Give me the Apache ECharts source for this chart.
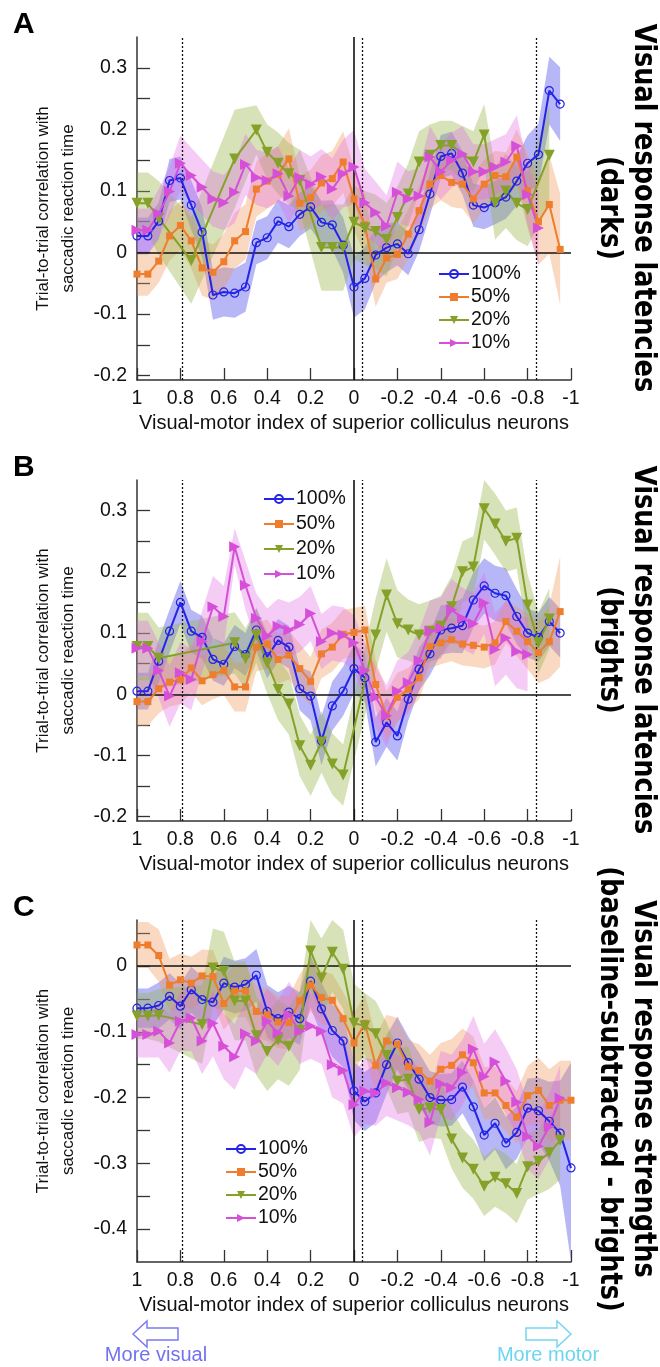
<!DOCTYPE html>
<html>
<head>
<meta charset="utf-8">
<script src="https://cdn.jsdelivr.net/npm/echarts@6/dist/echarts.min.js"></script>
<style>
html,body{margin:0;padding:0;background:#fff;}
#chart{width:660px;height:1367px;}
</style>
</head>
<body>
<div id="chart"></div>
<script>
// Visual-motor index positions (x)
const X = [1,0.95,0.9,0.85,0.8,0.75,0.7,0.65,0.6,0.55,0.5,0.45,0.4,0.35,0.3,0.25,0.2,0.15,0.1,0.05,0,-0.05,-0.1,-0.15,-0.2,-0.25,-0.3,-0.35,-0.4,-0.45,-0.5,-0.55,-0.6,-0.65,-0.7,-0.75,-0.8,-0.85,-0.9,-0.95,-1];
const seriesNames = ['100%','50%','20%','10%'];
const xTickLabels = [1,0.8,0.6,0.4,0.2,0,-0.2,-0.4,-0.6,-0.8,-1];
const dottedX = [0.785,-0.045,-0.84];

// Panel A: visual response latencies (darks)
const A_100 = [0.027,0.027,0.051,0.117,0.121,0.077,0.033,-0.069,-0.064,-0.066,-0.056,0.016,0.024,0.051,0.042,0.062,0.074,0.049,0.045,0.012,-0.056,-0.042,-0.004,0.008,0.014,-0.002,0.037,0.095,0.156,0.161,0.129,0.077,0.073,0.081,0.09,0.116,0.145,0.159,0.263,0.241,null];
const A_50 = [-0.035,-0.035,-0.014,0.027,0.044,0.019,-0.025,-0.032,-0.015,0.019,0.034,0.103,0.116,0.127,0.152,0.08,0.089,0.113,0.12,0.147,0.087,0.045,-0.043,-0.009,-0.003,0.03,0.068,0.111,0.125,0.114,0.111,0.087,0.111,0.125,0.123,0.155,0.1,0.05,0.078,0.005,null];
const A_20 = [0.08,0.08,0.056,null,null,-0.013,null,null,null,0.152,null,0.199,0.163,0.145,0.128,0.117,null,0.008,0.008,0.008,0.049,0.04,0.034,0.021,0.057,0.095,0.147,0.158,0.174,0.174,null,0.147,0.191,0.081,0.1,0.08,0.07,null,0.158,null,null];
const A_10 = [0.036,0.036,0.063,0.099,0.145,0.125,0.106,0.087,0.081,0.098,0.143,0.122,0.117,0.128,0.092,0.122,0.111,0.123,0.103,0.128,0.139,0.081,0.065,0.043,0.098,0.087,0.092,0.155,0.131,0.15,0.16,0.131,0.131,0.139,0.147,0.173,0.094,0.04,null,null,null];
const A_100_err = [0.03,0.03,0.03,0.035,0.035,0.04,0.04,0.04,0.04,0.04,0.04,0.035,0.035,0.035,0.035,0.035,0.035,0.035,0.04,0.045,0.05,0.05,0.045,0.04,0.035,0.035,0.035,0.035,0.035,0.035,0.035,0.035,0.035,0.035,0.035,0.04,0.045,0.05,0.055,0.06,0.06];
const A_50_err = [0.035,0.035,0.035,0.04,0.04,0.045,0.045,0.045,0.045,0.045,0.045,0.045,0.045,0.045,0.05,0.045,0.045,0.045,0.045,0.05,0.05,0.05,0.045,0.04,0.04,0.04,0.04,0.04,0.04,0.04,0.04,0.04,0.04,0.04,0.04,0.045,0.06,0.07,0.08,0.09,0.09];
const A_20_err = [0.05,0.05,0.06,0.06,0.06,0.07,0.07,0.07,0.07,0.08,0.07,0.04,0.045,0.05,0.05,0.05,0.06,0.07,0.07,0.07,0.06,0.06,0.06,0.06,0.05,0.05,0.05,0.05,0.04,0.04,0.05,0.05,0.05,0.06,0.06,0.06,0.06,0.07,0.08,0.08,0.08];
const A_10_err = [0.035,0.035,0.04,0.04,0.045,0.045,0.045,0.045,0.045,0.05,0.05,0.045,0.045,0.045,0.045,0.045,0.045,0.045,0.05,0.055,0.06,0.055,0.05,0.05,0.05,0.045,0.045,0.05,0.045,0.045,0.045,0.045,0.045,0.045,0.045,0.05,0.05,0.06,0.06,0.06,0.06];

// Panel B: visual response latencies (brights)
const B_100 = [0.005,0.005,0.054,0.103,0.15,0.103,0.093,0.057,0.049,0.078,0.065,0.105,0.061,0.088,0.077,0.009,-0.003,-0.076,-0.019,0.005,0.042,0.027,-0.078,-0.046,-0.068,-0.008,0.041,0.066,0.105,0.108,0.112,0.154,0.177,0.165,0.161,0.127,0.1,0.093,0.119,0.1,null];
const B_50 = [-0.012,-0.012,0.009,0.02,0.024,0.043,0.022,0.032,0.039,0.012,0.012,0.077,0.082,0.057,0.064,0.042,0.021,0.066,0.077,0.098,0.101,0.105,0.016,-0.035,-0.005,0.008,0.027,0.078,0.084,0.089,0.082,0.08,0.077,0.084,0.119,0.103,0.086,0.068,0.086,0.135,null];
const B_20 = [0.078,0.078,0.059,null,null,null,null,null,null,0.084,0.058,0.097,0.051,0.008,-0.016,-0.084,-0.116,-0.078,-0.114,-0.132,null,null,0.097,0.162,0.115,0.105,0.097,0.103,0.111,0.143,0.2,0.208,0.303,0.278,0.25,0.255,0.146,0.084,0.123,null,null];
const B_10 = [0.075,0.075,0.039,-0.003,0.035,0.024,0.086,0.143,0.127,0.241,0.178,0.124,0.095,0.111,0.105,0.114,0.132,0.086,0.1,0.097,0.084,0.039,-0.005,-0.035,0.005,0.019,0.055,0.103,0.108,0.138,0.124,0.115,0.149,0.073,0.092,0.07,0.065,null,null,null,null];
const B_100_err = [0.03,0.03,0.035,0.035,0.035,0.035,0.035,0.035,0.035,0.035,0.035,0.035,0.035,0.035,0.035,0.035,0.04,0.04,0.04,0.04,0.04,0.04,0.04,0.04,0.04,0.035,0.035,0.035,0.04,0.04,0.045,0.045,0.045,0.045,0.045,0.045,0.04,0.04,0.04,0.04,0.04];
const B_50_err = [0.04,0.04,0.04,0.04,0.04,0.04,0.04,0.04,0.04,0.04,0.04,0.04,0.04,0.04,0.04,0.04,0.04,0.04,0.04,0.04,0.04,0.04,0.04,0.04,0.04,0.035,0.035,0.035,0.035,0.035,0.035,0.035,0.035,0.035,0.035,0.04,0.045,0.05,0.06,0.09,0.09];
const B_20_err = [0.055,0.055,0.05,0.05,0.05,0.05,0.05,0.05,0.05,0.05,0.05,0.045,0.05,0.05,0.05,0.05,0.05,0.05,0.05,0.05,0.06,0.06,0.06,0.06,0.055,0.05,0.05,0.05,0.05,0.05,0.05,0.05,0.05,0.05,0.05,0.05,0.05,0.05,0.05,0.05,0.05];
const B_10_err = [0.045,0.045,0.045,0.05,0.05,0.05,0.05,0.05,0.05,0.03,0.04,0.04,0.045,0.045,0.045,0.045,0.045,0.045,0.045,0.045,0.045,0.045,0.05,0.05,0.05,0.05,0.05,0.05,0.05,0.05,0.05,0.05,0.05,0.06,0.06,0.06,0.06,0.06,0.06,0.06,0.06];

// Panel C: visual response strengths (baseline-subtracted - brights)
const C_100 = [-0.064,-0.064,-0.06,-0.046,-0.061,-0.036,-0.051,-0.055,-0.026,-0.032,-0.028,-0.014,-0.069,-0.08,-0.07,-0.08,-0.023,-0.065,-0.098,-0.114,-0.19,-0.206,-0.193,-0.15,-0.117,-0.147,-0.172,-0.2,-0.204,-0.203,-0.184,-0.214,-0.257,-0.239,-0.269,-0.253,-0.216,-0.22,-0.236,-0.254,-0.307];
const C_50 = [0.032,0.032,0.016,-0.029,-0.021,-0.026,-0.015,-0.016,-0.057,-0.038,-0.038,-0.069,-0.074,-0.085,-0.086,-0.053,-0.029,-0.048,-0.052,-0.08,-0.117,-0.087,-0.151,-0.114,-0.119,-0.153,-0.159,-0.175,-0.157,-0.151,-0.135,-0.147,-0.193,-0.193,-0.212,-0.23,-0.197,-0.189,-0.212,-0.204,-0.204];
const C_20 = [-0.076,-0.076,-0.075,null,null,null,-0.089,-0.003,-0.008,-0.053,-0.053,-0.106,-0.13,-0.112,-0.122,-0.098,0.023,-0.018,0.021,-0.005,-0.087,-0.091,-0.103,-0.136,-0.175,-0.172,-0.218,-0.216,-0.218,-0.263,-0.292,-0.309,-0.335,-0.321,-0.331,-0.346,-0.305,-0.297,-0.284,-0.265,null];
const C_10 = [-0.104,-0.104,-0.099,-0.117,-0.084,-0.079,-0.114,-0.087,-0.122,-0.138,-0.103,-0.114,-0.084,-0.102,-0.074,-0.099,-0.091,-0.099,-0.15,-0.159,-0.211,-0.19,-0.193,-0.178,-0.185,-0.192,-0.203,-0.238,-0.179,-0.185,-0.162,-0.126,-0.168,-0.146,-0.175,-0.207,-0.259,-0.274,-0.244,-0.201,null];
const C_100_err = [0.03,0.03,0.035,0.035,0.035,0.035,0.035,0.035,0.04,0.04,0.04,0.04,0.04,0.04,0.04,0.04,0.04,0.04,0.04,0.04,0.045,0.045,0.045,0.045,0.04,0.04,0.04,0.04,0.04,0.04,0.04,0.04,0.04,0.04,0.04,0.04,0.045,0.05,0.06,0.08,0.16];
const C_50_err = [0.035,0.035,0.04,0.04,0.04,0.04,0.04,0.04,0.04,0.04,0.04,0.04,0.04,0.04,0.04,0.04,0.04,0.04,0.04,0.04,0.045,0.045,0.045,0.04,0.04,0.04,0.04,0.04,0.04,0.04,0.04,0.04,0.04,0.04,0.04,0.04,0.045,0.05,0.055,0.06,0.06];
const C_20_err = [0.035,0.035,0.04,0.05,0.05,0.06,0.06,0.06,0.06,0.06,0.06,0.06,0.06,0.06,0.06,0.06,0.06,0.06,0.06,0.06,0.06,0.05,0.05,0.05,0.05,0.05,0.05,0.045,0.045,0.045,0.045,0.045,0.045,0.045,0.045,0.045,0.05,0.05,0.055,0.06,0.06];
const C_10_err = [0.035,0.035,0.04,0.045,0.045,0.05,0.05,0.05,0.05,0.05,0.05,0.05,0.05,0.05,0.05,0.05,0.05,0.05,0.05,0.05,0.05,0.05,0.05,0.05,0.05,0.05,0.05,0.05,0.05,0.05,0.05,0.05,0.05,0.05,0.05,0.05,0.05,0.05,0.05,0.05,0.05];

const FONT = 'Liberation Sans, Arial, sans-serif';
const lineColors = ['#2424E6','#EE7D2E','#85A12A','#D64FD8'];
const bandColors = ['rgba(95,95,240,0.45)','rgba(242,150,85,0.36)','rgba(150,178,70,0.38)','rgba(222,105,226,0.34)'];
const symbols = ['circle','rect','path://M0,0L10,0L5,9Z','path://M0,0L9,5L0,10Z'];
const symbolSizes = [8,7,11,11];

const panels = [
  {vals:[A_100,A_50,A_20,A_10], errs:[A_100_err,A_50_err,A_20_err,A_10_err], top:37, height:343, min:-0.207, max:0.35,
   ticks:[-0.2,-0.15,-0.1,-0.05,0,0.05,0.1,0.15,0.2,0.25,0.3], labels:[-0.2,-0.1,0,0.1,0.2,0.3],
   legend:{left:433, top:259, itemGap:3}},
  {vals:[B_100,B_50,B_20,B_10], errs:[B_100_err,B_50_err,B_20_err,B_10_err], top:480, height:341, min:-0.207, max:0.35,
   ticks:[-0.2,-0.15,-0.1,-0.05,0,0.05,0.1,0.15,0.2,0.25,0.3], labels:[-0.2,-0.1,0,0.1,0.2,0.3],
   legend:{left:258, top:484, itemGap:5}},
  {vals:[C_100,C_50,C_20,C_10], errs:[C_100_err,C_50_err,C_20_err,C_10_err], top:920, height:342, min:-0.45, max:0.07,
   ticks:[-0.4,-0.35,-0.3,-0.25,-0.2,-0.15,-0.1,-0.05,0,0.05], labels:[-0.4,-0.3,-0.2,-0.1,0],
   legend:{left:220, top:1134, itemGap:3}}
];

const grid = [], xAxis = [], yAxis = [], series = [], legend = [];
panels.forEach((p, pi) => {
  grid.push({left:137, width:434, top:p.top, height:p.height, containLabel:false});
  xAxis.push({
    type:'value', gridIndex:pi, min:-1, max:1, inverse:true,
    name:'Visual-motor index of superior colliculus neurons', nameLocation:'middle', nameGap:33,
    nameTextStyle:{fontFamily:FONT, fontSize:20, color:'#111'},
    axisLine:{show:true, onZero:false, lineStyle:{color:'#333', width:1.5}},
    axisTick:{show:true, inside:true, length:12, customValues:xTickLabels, lineStyle:{color:'#333', width:1.3}},
    axisLabel:{customValues:xTickLabels, margin:9, fontFamily:FONT, fontSize:19.5, color:'#111', showMinLabel:true, showMaxLabel:true},
    splitLine:{show:false}
  });
  yAxis.push({
    type:'value', gridIndex:pi, min:p.min, max:p.max,
    name:'Trial-to-trial correlation with\nsaccadic reaction time', nameLocation:'middle', nameGap:56, nameRotate:90,
    nameTextStyle:{fontFamily:FONT, fontSize:17, color:'#111', lineHeight:25},
    axisLine:{show:true, onZero:false, lineStyle:{color:'#333', width:1.5}},
    axisTick:{show:true, inside:true, length:13, customValues:p.ticks, lineStyle:{color:'#333', width:1.3}},
    axisLabel:{customValues:p.labels, margin:10, fontFamily:FONT, fontSize:19.5, color:'#111'},
    splitLine:{show:false}
  });
  // shaded bands (value +/- error), drawn through the axis scales
  p.vals.forEach((vals, si) => {
    const errs = p.errs[si];
    const bandData = [];
    X.forEach((x, i) => { if (vals[i] != null) bandData.push([x, vals[i] - errs[i], vals[i] + errs[i]]); });
    const fill = bandColors[si];
    series.push({
      type:'custom', name:seriesNames[si] + ' band ' + pi, xAxisIndex:pi, yAxisIndex:pi, silent:true, z:1,
      data:bandData, encode:{x:0, y:[1,2]},
      renderItem: function(params, api) {
        if (params.dataIndex !== 0) return null;
        const up = bandData.map(d => api.coord([d[0], d[2]]));
        const lo = bandData.map(d => api.coord([d[0], d[1]])).reverse();
        const pts = echarts.graphic.clipPointsByRect(up.concat(lo), params.coordSys);
        return {type:'polygon', shape:{points:pts}, style:{fill:fill, stroke:null}};
      }
    });
  });
  // reference lines
  series.push({
    type:'line', name:'ref' + pi, xAxisIndex:pi, yAxisIndex:pi, data:[], z:3, silent:true,
    markLine:{
      silent:true, symbol:'none', label:{show:false}, animation:false,
      data:[
        {yAxis:0, lineStyle:{type:'solid', color:'#111', width:1.5}},
        {xAxis:0, lineStyle:{type:'solid', color:'#111', width:1.6}},
        ...dottedX.map(v => ({xAxis:v, lineStyle:{type:[2,2], color:'#111', width:1.3}}))
      ]
    }
  });
  // lines with markers
  p.vals.forEach((vals, si) => {
    const data = X.map((x, i) => vals[i] == null ? null : [x, vals[i]]).filter(d => d);
    const isCircle = si === 0;
    series.push({
      type:'line', name:seriesNames[si], xAxisIndex:pi, yAxisIndex:pi, z:5,
      data:data, connectNulls:true, showAllSymbol:true,
      symbol:symbols[si], symbolSize:symbolSizes[si],
      lineStyle:{color:lineColors[si], width:2},
      itemStyle: isCircle ? {color:'rgba(255,255,255,0)', borderColor:lineColors[si], borderWidth:1.2}
                          : {color:lineColors[si], borderWidth:0},
      emphasis:{disabled:true}, animation:false
    });
  });
  legend.push({
    orient:'vertical', left:p.legend.left, top:p.legend.top, itemGap:p.legend.itemGap,
    itemWidth:30, itemHeight:10, data:seriesNames, selectedMode:false,
    textStyle:{fontFamily:FONT, fontSize:19.5, color:'#111', padding:[0,0,0,-3], lineHeight:19}
  });
});

const graphic = [];
const letters = [['A',25],['B',468],['C',908]];
letters.forEach(([t,y]) => graphic.push({type:'text', left:13, top:y-15, style:{text:t, font:'bold 30px ' + FONT, fill:'#000'}}));
const rightTitles = [
  ['Visual response latencies\n(darks)', 208],
  ['Visual response latencies\n(brights)', 650],
  ['Visual response strengths\n(baseline-subtracted - brights)', 1089]
];
rightTitles.forEach(([t,y]) => graphic.push({
  type:'text', x:626, y:y, rotation:-Math.PI/2, scaleX:0.95,
  style:{text:t, font:'bold 30px "Liberation Sans Narrow", "DejaVu Sans Condensed", sans-serif', fill:'#000', align:'center', verticalAlign:'middle', lineHeight:34}
}));
// direction annotations
graphic.push({type:'polygon', shape:{points:[[133,1334],[147,1321],[147,1328],[178,1328],[178,1340],[147,1340],[147,1347]]},
  style:{fill:'#fff', stroke:'#7B7BF2', lineWidth:1.5}});
graphic.push({type:'polygon', shape:{points:[[571,1334],[557,1321],[557,1328],[526,1328],[526,1340],[557,1340],[557,1347]]},
  style:{fill:'#fff', stroke:'#74D6F0', lineWidth:1.5}});
graphic.push({type:'text', x:156, y:1355, style:{text:'More visual', font:'20px ' + FONT, fill:'#7272EE', align:'center', verticalAlign:'middle'}});
graphic.push({type:'text', x:548, y:1355, style:{text:'More motor', font:'20px ' + FONT, fill:'#6ED5F0', align:'center', verticalAlign:'middle'}});

const chart = echarts.init(document.getElementById('chart'), null, {renderer:'canvas'});
chart.setOption({
  animation:false, backgroundColor:'#fff',
  grid, xAxis, yAxis, series, legend, graphic
});
</script>
</body>
</html>
